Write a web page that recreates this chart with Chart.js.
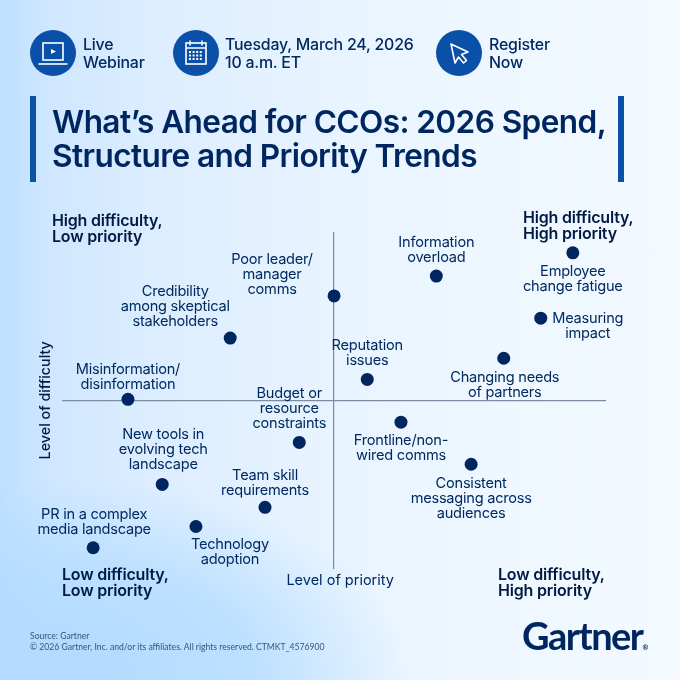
<!DOCTYPE html>
<html>
<head>
<meta charset="utf-8">
<script src="https://cdn.jsdelivr.net/npm/chart.js@4"></script>
<style>
  html, body { margin: 0; padding: 0; }
  body { width: 680px; height: 680px; overflow: hidden; position: relative; font-family: Inter, sans-serif; color: #002a60;
    background:
      radial-gradient(ellipse 340px 200px at 70px 680px, #b2dbff 0%, rgba(178,219,255,0.75) 55%, rgba(178,219,255,0) 100%),
      linear-gradient(90deg, #bfe0ff 0px, #cfe7ff 50px, #dcedff 150px, #e6f3ff 300px, #eef7ff 480px, #f3f9ff 680px);
  }
  #chart { position: absolute; left: 0; top: 0; }
  .txt { position: absolute; white-space: nowrap; }
  .head { font-size: 15.9px; line-height: 18px; font-weight: 500; letter-spacing: -0.2px; }
  .icon { position: absolute; top: 30px; width: 46px; height: 46px; }
  .bar { position: absolute; top: 96px; width: 6px; height: 86px; background: #0a50a8; }
  .title { left: 52px; top: 105px; font-size: 31.6px; line-height: 34px; font-weight: 600; letter-spacing: -0.6px; color: #00265f; }
  .quad { font-size: 16px; line-height: 15.5px; font-weight: 600; letter-spacing: -0.2px; color: #001a44; }
  .foot { left: 30px; font-family: Lato, sans-serif; font-size: 8.6px; color: #33567f; }
  .logo { left: 522px; top: 612px; font-family: Lato, sans-serif; font-size: 38px; font-weight: 700; letter-spacing: -1.5px; color: #00265f; line-height: 46px; }
  .logo sup { font-size: 7px; letter-spacing: 0; vertical-align: baseline; }
</style>
</head>
<body>
<canvas id="chart" width="680" height="680"></canvas>

<svg class="icon" style="left:30px" viewBox="0 0 46 46">
  <circle cx="23" cy="23" r="23" fill="#0a50a8"/>
  <rect x="13" y="13" width="20" height="17" fill="none" stroke="#fff" stroke-width="1.6"/>
  <path d="M21 19l5 2.5-5 2.5z" fill="#fff"/>
  <path d="M8.5 34h29" stroke="#fff" stroke-width="1.6"/>
</svg>
<div class="txt head" style="left:83px;top:36px">Live<br>Webinar</div>

<svg class="icon" style="left:173px" viewBox="0 0 46 46">
  <circle cx="23" cy="23" r="23" fill="#0a50a8"/>
  <rect x="13" y="13" width="20" height="21" fill="none" stroke="#fff" stroke-width="1.6"/>
  <path d="M13 18h20M17 10.5v5M29 10.5v5" stroke="#fff" stroke-width="1.6"/>
  <path d="M16 22h14M16 25.5h14M16 29h14" stroke="#fff" stroke-width="2" stroke-dasharray="2 1.6"/>
</svg>
<div class="txt head" style="left:225px;top:36px">Tuesday, March 24, 2026<br>10 a.m. ET</div>

<svg class="icon" style="left:436px" viewBox="0 0 46 46">
  <circle cx="23" cy="23" r="23" fill="#0a50a8"/>
  <path d="M15 14l17 8-6.5 2.5 5 6-3 2.5-5-6-3.5 6z" fill="none" stroke="#fff" stroke-width="1.6" stroke-linejoin="round"/>
</svg>
<div class="txt head" style="left:489px;top:36px">Register<br>Now</div>

<div class="bar" style="left:30px"></div>
<div class="bar" style="left:618px"></div>
<div class="txt title">What’s Ahead for CCOs: 2026 Spend,<br>Structure and Priority Trends</div>

<div class="txt quad" style="left:52px;top:213px">High difficulty,<br>Low priority</div>
<div class="txt quad" style="left:523px;top:210px">High difficulty,<br>High priority</div>
<div class="txt quad" style="left:62px;top:567px">Low difficulty,<br>Low priority</div>
<div class="txt quad" style="left:498px;top:567px">Low difficulty,<br>High priority</div>

<div class="txt foot" style="top:631px">Source: Gartner</div>
<div class="txt foot" style="top:642px">© 2026 Gartner, Inc. and/or its affiliates. All rights reserved. CTMKT_4576900</div>
<div class="txt logo">Gartner<sup>®</sup></div>

<script>
// values, both axes run -50 to 50 with the cross at 0
const topicNames = [
  ['Poor leader/', 'manager', 'comms'],
  ['Credibility', 'among skeptical', 'stakeholders'],
  ['Misinformation/', 'disinformation'],
  ['Budget or', 'resource', 'constraints'],
  ['New tools in', 'evolving tech', 'landscape'],
  ['Team skill', 'requirements'],
  ['Technology', 'adoption'],
  ['PR in a complex', 'media landscape'],
  ['Information', 'overload'],
  ['Employee', 'change fatigue'],
  ['Measuring', 'impact'],
  ['Changing needs', 'of partners'],
  ['Reputation', 'issues'],
  ['Frontline/non-', 'wired comms'],
  ['Consistent', 'messaging across', 'audiences']
];
const priorityValues = [0, -19.1, -37.9, -6.4, -31.6, -12.7, -25.4, -44.3, 18.8, 43.9, 38, 31.2, 6.1, 12.3, 25.2];
const difficultyValues = [31, 18.5, 0.3, -12.5, -25, -31.8, -37.5, -43.8, 36.9, 43.8, 24.4, 12.5, 6.2, -6.5, -19];

// where each label sits from its dot: dx to the text centre, dy to the first line
const labelOffsets = [
  [-62, -36], [-55, -46], [0, -30], [-10, -49], [1, -50], [0, -32], [34, 18], [1, -33],
  [0, -33], [0, 19], [47, 0], [1, 19], [0, -34], [0, 18], [0, 19]
];

const navy = '#00265f';

const topicLabels = {
  id: 'topicLabels',
  afterDatasetsDraw(chart) {
    const ctx = chart.ctx;
    const pts = chart.getDatasetMeta(0).data;
    ctx.save();
    ctx.font = '400 14.6px Inter';
    ctx.letterSpacing = '-0.25px';
    ctx.fillStyle = '#002a60';
    ctx.textAlign = 'center';
    ctx.textBaseline = 'middle';
    pts.forEach((pt, i) => {
      topicNames[i].forEach((line, j) => {
        ctx.fillText(line, pt.x + labelOffsets[i][0], pt.y + labelOffsets[i][1] + j * 15);
      });
    });
    ctx.restore();
  }
};

function crossLine(c) {
  return c.tick.value === 0 ? '#7d8ca3' : 'rgba(0,0,0,0)';
}

new Chart(document.getElementById('chart'), {
  type: 'scatter',
  data: {
    datasets: [{
      data: priorityValues.map((v, i) => ({ x: v, y: difficultyValues[i] })),
      backgroundColor: navy,
      borderWidth: 0,
      pointRadius: 6.5
    }]
  },
  options: {
    responsive: false,
    animation: false,
    layout: { padding: { left: 37, top: 232, right: 74, bottom: 91 } },
    plugins: { legend: { display: false }, tooltip: { enabled: false } },
    scales: {
      x: {
        min: -50, max: 50,
        ticks: { display: false, stepSize: 50 },
        border: { display: false },
        grid: { color: crossLine, lineWidth: 1.2, drawTicks: false },
        title: { display: true, text: '   Level of priority', color: '#002a60', font: { family: 'Inter', size: 14.5, weight: '400' }, padding: { top: 3, bottom: 0 } }
      },
      y: {
        min: -50, max: 50,
        ticks: { display: false, stepSize: 50 },
        border: { display: false },
        grid: { color: crossLine, lineWidth: 1.2, drawTicks: false },
        title: { display: true, text: 'Level of difficulty', color: '#001a44', font: { family: 'Inter', size: 14.3, weight: '500' }, padding: { top: 0, bottom: 8 } }
      }
    }
  },
  plugins: [topicLabels]
});
</script>
</body>
</html>
